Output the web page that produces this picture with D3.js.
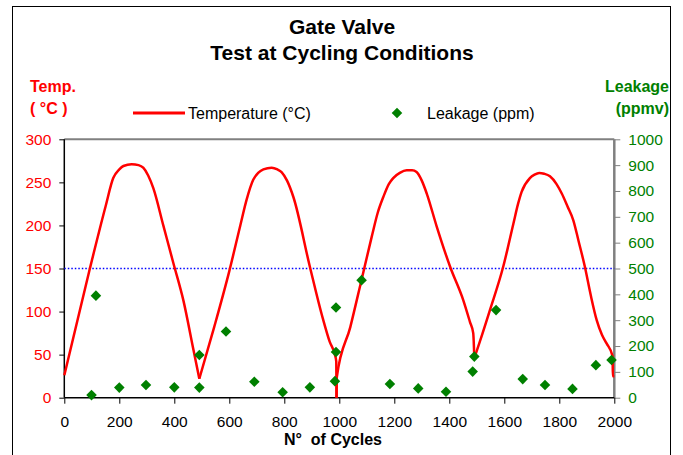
<!DOCTYPE html>
<html>
<head>
<meta charset="utf-8">
<script src="https://cdn.jsdelivr.net/npm/d3@7"></script>
<style>
  html, body { margin: 0; padding: 0; background: #fff; }
  svg { display: block; font-family: "Liberation Sans", Arial, sans-serif; }
</style>
</head>
<body>
<svg id="chart" width="683" height="455"></svg>
<script>
// ---- Data ----
const tempCycles = [0, 93, 150, 178, 200, 215, 245, 270, 287, 305, 324, 360, 396, 433, 470, 491,
  545, 600, 640, 663, 687, 705, 724, 754, 775, 790, 810, 833, 893, 940, 965, 984, 989, 990,
  991, 1040, 1081, 1118, 1140, 1160, 1180, 1196, 1220, 1245, 1265, 1281, 1300, 1318, 1354, 1403, 1451, 1475, 1487, 1491,
  1511, 1548, 1596, 1633, 1650, 1663, 1693, 1710, 1727, 1745, 1766, 1790, 1809, 1830, 1851, 1870, 1893, 1915, 1936, 1955, 1972, 1994, 1994.5, 2000];
const tempValues = [26, 150, 222, 255, 265, 269, 271, 270, 267, 258, 243, 200, 157, 113, 55, 22,
  82, 147, 200, 230, 253, 261, 265, 267, 265, 262, 252, 233, 152, 92, 65, 50, 42, 0,
  24, 82, 137, 187, 215, 233, 248, 255, 261, 264, 264, 262, 252, 237, 199, 152, 113, 88, 75, 46,
  65, 102, 152, 202, 225, 239, 255, 259, 261, 260, 257, 248, 237, 222, 206, 182, 152, 118, 90, 73, 63, 48, 25, 25];
// cycle counts where the temperature trace has a sharp corner (new smooth segment starts)
const tempBreaks = [491, 990, 1491];

const leakCycles = [99, 115, 200, 297, 400, 491, 491, 588, 691, 794, 893, 988, 988, 984,
  1081, 1184, 1287, 1388, 1485, 1491, 1570, 1667, 1748, 1848, 1933, 1990];
const leakValues = [10, 395, 39, 49, 40, 165, 39, 256, 62, 21, 40, 349, 177, 64,
  455, 53, 36, 23, 101, 159, 339, 72, 49, 34, 126, 146];

const limitValue = 150; // °C reference line
const xTicks = [0, 200, 400, 600, 800, 1000, 1200, 1400, 1600, 1800, 2000];
const yLeftTicks = [0, 50, 100, 150, 200, 250, 300];
const yRightTicks = [0, 100, 200, 300, 400, 500, 600, 700, 800, 900, 1000];

const titleLines = ["Gate Valve", "Test at Cycling Conditions"];
const xTitle = "N°  of Cycles";
const leftTitle = ["Temp.", "( °C )"];
const rightTitle = ["Leakage", "(ppmv)"];
const legendLabels = ["Temperature (°C)", "Leakage (ppm)"];

// ---- Layout ----
const svg = d3.select("#chart");
const L = 64.3, R = 614.3, T = 139.3, B = 397.7;
const RED = "#ff0000", GREEN = "#008000", BLUE = "#0000ff";
const FONT = "Liberation Sans, Arial, sans-serif";

const x = d3.scaleLinear().domain([0, 2000]).range([L, R]);
const yL = d3.scaleLinear().domain([0, 300]).range([B, T]);
const yR = d3.scaleLinear().domain([0, 1000]).range([B, T]);

// outer frame
svg.append("rect").attr("x", 12.5).attr("y", 6.5).attr("width", 658).attr("height", 460)
  .attr("fill", "none").attr("stroke", "#000").attr("stroke-width", 1);

// titles
svg.selectAll("text.title").data(titleLines).join("text")
  .attr("class", "title")
  .attr("x", 342).attr("y", (d, i) => 34 + i * 26)
  .attr("text-anchor", "middle").attr("font-weight", "bold").attr("font-size", 21)
  .attr("fill", "#000").text(d => d);

// axis side titles
svg.selectAll("text.lt").data(leftTitle).join("text").attr("class", "lt")
  .attr("x", 30).attr("y", (d, i) => 92 + i * 22)
  .attr("font-weight", "bold").attr("font-size", 16).attr("fill", RED).text(d => d);
svg.selectAll("text.rt").data(rightTitle).join("text").attr("class", "rt")
  .attr("x", 669).attr("y", (d, i) => 92 + i * 22).attr("text-anchor", "end")
  .attr("font-weight", "bold").attr("font-size", 16).attr("fill", GREEN).text(d => d);

// legend
const diamond = d3.symbol(d3.symbolSquare, 56)();
svg.append("line").attr("x1", 133).attr("x2", 185).attr("y1", 113).attr("y2", 113)
  .attr("stroke", RED).attr("stroke-width", 3);
svg.append("text").attr("x", 188).attr("y", 119).attr("font-size", 16).attr("fill", "#000")
  .text(legendLabels[0]);
svg.append("path").attr("d", diamond)
  .attr("transform", "translate(397,113) rotate(45)").attr("fill", GREEN);
svg.append("text").attr("x", 427).attr("y", 119).attr("font-size", 16).attr("fill", "#000")
  .text(legendLabels[1]);

// top gray frame line
svg.append("line").attr("x1", L).attr("x2", R).attr("y1", T).attr("y2", T)
  .attr("stroke", "#808080").attr("stroke-width", 2);

// right axis
const gR = svg.append("g").attr("transform", `translate(${R},0)`)
  .call(d3.axisRight(yR).tickValues(yRightTicks).tickSize(6).tickPadding(8).tickFormat(d3.format("d")));
gR.select(".domain").attr("stroke", "#808080").attr("stroke-width", 2.5).attr("d", `M0,${T}V${B}`);
gR.selectAll(".tick line").attr("stroke", "#808080").attr("stroke-width", 1);
gR.selectAll(".tick text").attr("fill", GREEN).attr("font-size", 15.5).attr("font-family", FONT);

// left axis
const gL = svg.append("g").attr("transform", `translate(${L},0)`)
  .call(d3.axisLeft(yL).tickValues(yLeftTicks).tickSize(5).tickPadding(8).tickFormat(d3.format("d")));
gL.select(".domain").attr("stroke", "#000").attr("stroke-width", 1.5).attr("d", `M0,${T}V${B}`);
gL.selectAll(".tick line").attr("stroke", "#000").attr("stroke-width", 1);
gL.selectAll(".tick text").attr("fill", RED).attr("font-size", 15.5).attr("font-family", FONT);

// bottom axis
const gB = svg.append("g").attr("transform", `translate(0,${B})`)
  .call(d3.axisBottom(x).tickValues(xTicks).tickSize(6).tickPadding(12).tickFormat(d3.format("d")));
gB.select(".domain").attr("stroke", "#000").attr("stroke-width", 1.5).attr("d", `M${L},0H${R}`);
gB.selectAll(".tick line").attr("stroke", "#000").attr("stroke-width", 1);
gB.selectAll(".tick text").attr("fill", "#000").attr("font-size", 15.5).attr("font-family", FONT);

svg.append("text").attr("x", 333).attr("y", 445).attr("text-anchor", "middle")
  .attr("font-weight", "bold").attr("font-size", 16).attr("fill", "#000")
  .style("white-space", "pre").text(xTitle);

// reference line
svg.append("line").attr("x1", L).attr("x2", R).attr("y1", yL(limitValue)).attr("y2", yL(limitValue))
  .attr("stroke", BLUE).attr("stroke-width", 1.5).attr("stroke-dasharray", "1.5,2");

// temperature curve: smooth segments joined at sharp corners
const tempData = tempCycles.map((c, i) => [c, tempValues[i]]);
const segments = [];
let cur = [];
tempData.forEach(d => {
  cur.push(d);
  if (tempBreaks.includes(d[0]) && cur.length > 1) { segments.push(cur); cur = [d]; }
});
if (cur.length > 1) segments.push(cur);
const line = d3.line().x(d => x(d[0])).y(d => yL(d[1])).curve(d3.curveMonotoneX);
svg.selectAll("path.temp").data(segments).join("path").attr("class", "temp")
  .attr("d", line)
  .attr("fill", "none").attr("stroke", RED).attr("stroke-width", 2.5)
  .attr("stroke-linejoin", "round").attr("stroke-linecap", "butt");

// leakage points
const leakData = leakCycles.map((c, i) => [c, leakValues[i]]);
svg.selectAll("path.leak").data(leakData).join("path").attr("class", "leak")
  .attr("d", diamond)
  .attr("transform", d => `translate(${x(d[0])},${yR(d[1])}) rotate(45)`)
  .attr("fill", GREEN);
</script>
</body>
</html>
